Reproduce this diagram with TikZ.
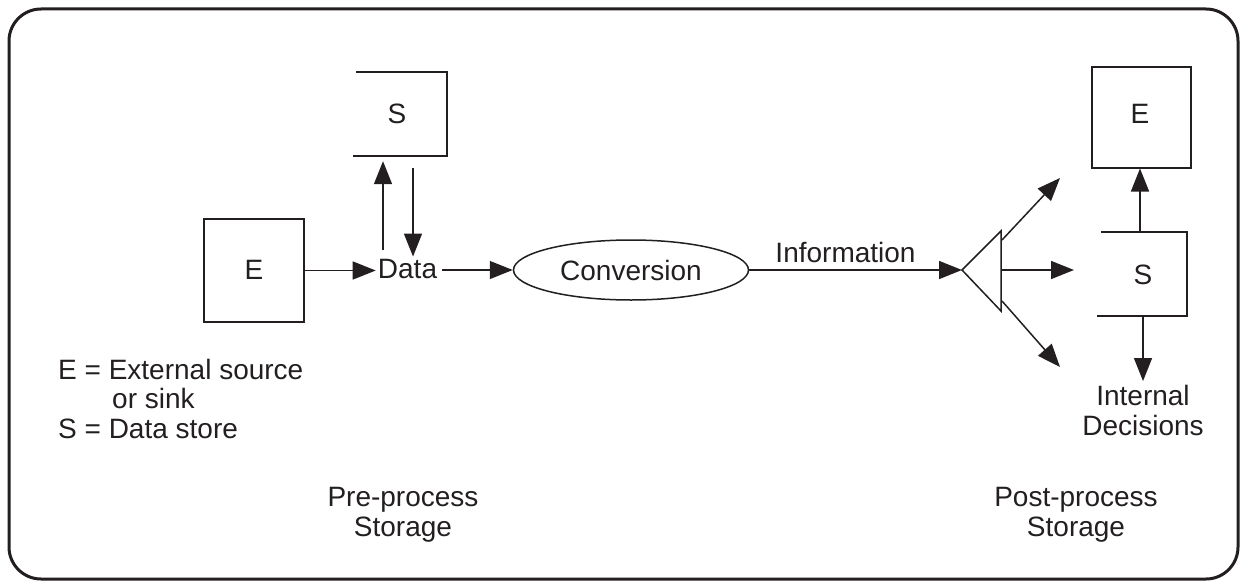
\documentclass[tikz,border=0pt]{standalone}
\usepackage{fontspec}
\setmainfont{Liberation Sans}
\usetikzlibrary{arrows.meta,shapes.geometric}
\definecolor{ink}{RGB}{35,31,32}
\tikzset{
  txt/.style={font=\fontsize{28}{29.5}\selectfont, text=ink, inner sep=0pt},
  boxline/.style={draw=ink, line width=2pt},
  storeline/.style={draw=ink, line width=2pt},
  arr/.style={draw=ink, line width=1.5pt, -{Triangle[length=23pt,width=18pt]}},
  plain/.style={draw=ink, line width=1.5pt},
}
\begin{document}
\begin{tikzpicture}[x=1pt,y=-1pt]
\useasboundingbox (0,0) rectangle (1245,586);
% outer frame
\draw[ink, line width=3pt, rounded corners=32pt] (9,9) rectangle (1238,579);

% left external entity
\node[boxline, minimum width=100pt, minimum height=103pt, inner sep=0pt] (e1) at (254,270.5) {};
\node[txt] (e1t) at (254,270) {E};

% top data store (open on the left)
\node[minimum width=91pt, minimum height=84pt, inner sep=0pt] (s1) at (401.5,114) {};
\draw[storeline] (s1.north west) -- (s1.north east) -- (s1.south east) -- ([xshift=-3pt]s1.south west);
\node[txt] (s1t) at (397,114) {S};

% Data
\node[txt, anchor=base] (data) at (407.5,278) {Data};
\draw[arr] (e1.east) -- ([xshift=-2pt]e1.east -| data.west);
\draw[arr] ([xshift=-24.5pt,yshift=9pt]data.north) -- ([xshift=-18.5pt,yshift=-5pt]s1.south);
\draw[arr] ([xshift=11.5pt,yshift=-12pt]s1.south) -- ([xshift=5.5pt,yshift=2pt]data.north);

% conversion
\node[draw=ink, line width=1.5pt, ellipse, minimum width=235pt, minimum height=60pt, inner sep=0pt] (conv) at (631,270) {};
\node[txt] (convt) at (631,270) {Conversion};
\coordinate (dE) at ([xshift=5pt]data.east);
\draw[arr] (dE |- conv.west) -- (conv.west);

% triangle splitter
\coordinate (ta) at (962,270);
\coordinate (tt) at (1001,231);
\coordinate (tb) at (1001,311);
\draw[plain] (ta) -- (tt) -- (tb) -- cycle;
\node[txt, anchor=base] (info) at (845.5,262) {Information};
\draw[arr] (conv.east) -- (ta);

% right external entity and store
\node[boxline, minimum width=99pt, minimum height=100pt, inner sep=0pt] (e2) at (1141.5,117.5) {};
\node[txt] (e2t) at (1140,114) {E};
\node[minimum width=90pt, minimum height=84pt, inner sep=0pt] (s2) at (1142,274) {};
\draw[storeline] ([xshift=4pt]s2.north west) -- (s2.north east) -- (s2.south east) -- (s2.south west);
\node[txt] (s2t) at (1143,275) {S};

\coordinate (t1) at (1002,240);
\coordinate (t2) at (1001,270);
\coordinate (t3) at (1002,301);
\coordinate (f1) at (1060,178);
\coordinate (f2) at (1074,270);
\coordinate (f3) at (1060,367);
\draw[arr] (t1) -- (f1);
\draw[arr] (t2) -- (f2);
\draw[arr] (t3) -- (f3);

\coordinate (sUp) at ([xshift=-2pt]s2.north);
\draw[arr] (sUp) -- (sUp |- e2.south);

\node[txt, anchor=base, align=center] (dec) at (1143,435) {Internal\\Decisions};
\coordinate (sDn) at ([xshift=1pt]s2.south);
\draw[arr] (sDn) -- ([yshift=4pt]sDn |- dec.north);

% legend
\node[txt, anchor=base west, align=left] (legend) at (58,438) {E = External source\\\hspace*{54pt}or sink\\S = Data store};

% captions
\node[txt, anchor=base, align=center] (pre) at (403,536) {Pre-process\\Storage};
\node[txt, anchor=base, align=center] (post) at (1076,536) {Post-process\\Storage};
\end{tikzpicture}
\end{document}
